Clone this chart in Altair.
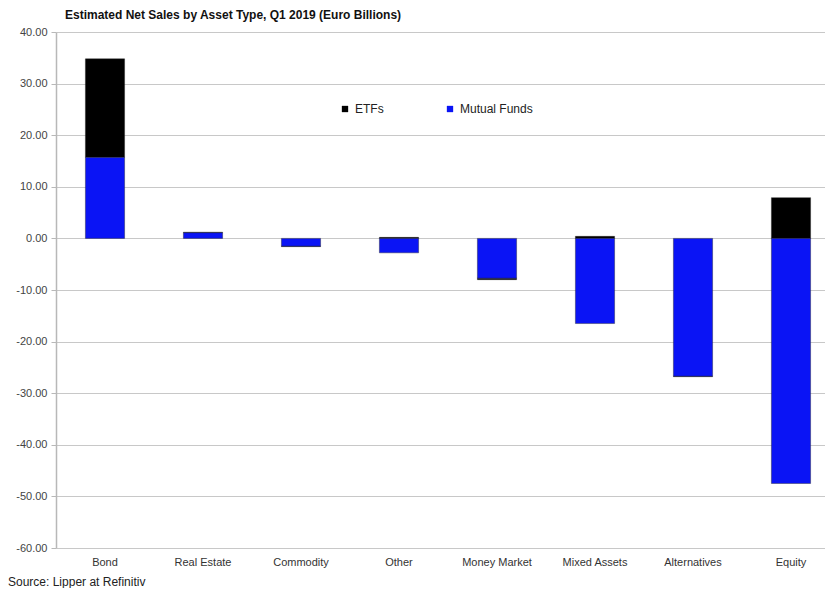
import altair as alt
import pandas as pd

categories = ["Bond", "Real Estate", "Commodity", "Other", "Money Market",
              "Mixed Assets", "Alternatives", "Equity"]
etfs = [19.1, 0.1, -0.1, 0.2, -0.3, 0.4, -0.1, 7.9]
mutual_funds = [15.7, 1.1, -1.5, -2.8, -7.7, -16.5, -26.7, -47.5]
series = ["ETFs", "Mutual Funds"]
y_ticks = [40, 30, 20, 10, 0, -10, -20, -30, -40, -50, -60]

rows = []
for i, c in enumerate(categories):
    rows.append({"category": c, "series": "ETFs", "value": etfs[i], "order": 2})
    rows.append({"category": c, "series": "Mutual Funds", "value": mutual_funds[i], "order": 1})
df = pd.DataFrame(rows)

W, H = 769, 516
FONT = "Liberation Sans"

bars = alt.Chart(df).mark_bar(stroke="#222222", strokeWidth=0.4).encode(
    x=alt.X("category:N", sort=categories, title=None,
            scale=alt.Scale(paddingInner=0.6, paddingOuter=0.3, range=[0, 784]),
            axis=alt.Axis(labelAngle=0, labelFontSize=11, labelColor="#333333",
                          labelFont=FONT, ticks=False, domain=False, labelPadding=8)),
    y=alt.Y("value:Q", title=None,
            scale=alt.Scale(domain=[-60, 40], nice=False),
            axis=alt.Axis(values=y_ticks,
                          labelExpr="(datum.value < 0 ? '-' : '') + format(abs(datum.value), '.2f')",
                          labelFontSize=11,
                          labelColor="#444444", labelFont=FONT,
                          gridColor="#c8c8c8", gridWidth=1.2,
                          domainColor="#b8b8b8", domainWidth=1.5,
                          tickColor="#b8b8b8", tickSize=5, labelPadding=4)),
    color=alt.Color("series:N", sort=series,
                    scale=alt.Scale(domain=series, range=["#000000", "#0a14f5"]),
                    legend=alt.Legend(title=None, orient="none", direction="horizontal",
                                      legendX=283, legendY=71, symbolType="square",
                                      symbolSize=40, symbolStrokeWidth=0,
                                      labelFontSize=12, labelFont=FONT,
                                      labelColor="#222222", columnPadding=60)),
    order=alt.Order("order:Q"),
)

source = alt.Chart(pd.DataFrame({"t": ["Source: Lipper at Refinitiv"]})).mark_text(
    align="left", baseline="middle", fontSize=12, font=FONT, color="#222222"
).encode(text="t:N", x=alt.value(-48), y=alt.value(H + 34))

chart = alt.layer(bars, source).properties(
    width=W, height=H,
    autosize=alt.AutoSizeParams(type="none"),
    padding={"left": 48, "top": 24, "right": 0, "bottom": 40},
    title=alt.TitleParams("Estimated Net Sales by Asset Type, Q1 2019 (Euro Billions)",
                          anchor="start", frame="group", fontSize=12, font=FONT,
                          fontWeight="bold", color="#111111", dx=9, offset=4),
).configure_view(stroke=None)

chart.save("out.html", embed_options={"renderer": "svg", "actions": False})
